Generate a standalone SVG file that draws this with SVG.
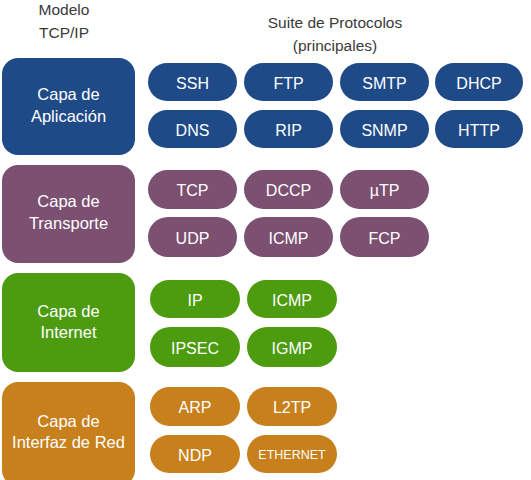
<svg xmlns="http://www.w3.org/2000/svg" width="531" height="480" viewBox="0 0 531 480">
<style>
text{font-family:"Liberation Sans",Arial,sans-serif;text-anchor:middle;}
.h{fill:#3a3a3a;font-size:15.5px;}
.l{fill:#fff;font-size:16.5px;}
.p{fill:#fff;font-size:16px;}
.s{fill:#fff;font-size:12.5px;}
.b{fill:#1f4a88;}
.u{fill:#7c5070;}
.g{fill:#4d9b0f;}
.o{fill:#c7801b;}
</style>
<g id="header">
<text class="h" x="64" y="15">Modelo</text>
<text class="h" x="64" y="38">TCP/IP</text>
<text class="h" x="335" y="28">Suite de Protocolos</text>
<text class="h" x="335" y="51">(principales)</text>
</g>
<g id="connectors"></g>
<g id="app">
<rect class="b" x="2" y="58" width="133" height="97" rx="16"/>
<text class="l" x="68.5" y="100">Capa de</text>
<text class="l" x="68.5" y="122">Aplicación</text>
</g>
<g id="ssh"><rect class="b" x="148" y="63" width="89" height="38" rx="19"/><text class="p" x="192.5" y="89">SSH</text></g>
<g id="ftp"><rect class="b" x="244" y="63" width="89" height="38" rx="19"/><text class="p" x="288.5" y="89">FTP</text></g>
<g id="smtp"><rect class="b" x="340" y="63" width="89" height="38" rx="19"/><text class="p" x="384.5" y="89">SMTP</text></g>
<g id="dhcp"><rect class="b" x="435" y="63" width="88" height="38" rx="19"/><text class="p" x="479" y="89">DHCP</text></g>
<g id="dns"><rect class="b" x="148" y="110" width="89" height="38" rx="19"/><text class="p" x="192.5" y="136">DNS</text></g>
<g id="rip"><rect class="b" x="244" y="110" width="89" height="38" rx="19"/><text class="p" x="288.5" y="136">RIP</text></g>
<g id="snmp"><rect class="b" x="340" y="110" width="89" height="38" rx="19"/><text class="p" x="384.5" y="136">SNMP</text></g>
<g id="http"><rect class="b" x="435" y="110" width="88" height="38" rx="19"/><text class="p" x="479" y="136">HTTP</text></g>

<g id="transport">
<rect class="u" x="2" y="165" width="133" height="98" rx="16"/>
<text class="l" x="68.5" y="207">Capa de</text>
<text class="l" x="68.5" y="229">Transporte</text>
</g>
<g id="tcp"><rect class="u" x="148" y="170" width="89" height="39" rx="19.5"/><text class="p" x="192.5" y="196">TCP</text></g>
<g id="dccp"><rect class="u" x="244" y="170" width="89" height="39" rx="19.5"/><text class="p" x="288.5" y="196">DCCP</text></g>
<g id="utp"><rect class="u" x="340" y="170" width="89" height="39" rx="19.5"/><text class="p" x="384.5" y="196">µTP</text></g>
<g id="udp"><rect class="u" x="148" y="217" width="89" height="40" rx="20"/><text class="p" x="192.5" y="244">UDP</text></g>
<g id="icmp-t"><rect class="u" x="244" y="217" width="89" height="40" rx="20"/><text class="p" x="288.5" y="244">ICMP</text></g>
<g id="fcp"><rect class="u" x="340" y="217" width="89" height="40" rx="20"/><text class="p" x="384.5" y="244">FCP</text></g>

<g id="internet">
<rect class="g" x="2" y="273" width="133" height="99" rx="16"/>
<text class="l" x="68.5" y="317">Capa de</text>
<text class="l" x="68.5" y="338">Internet</text>
</g>
<g id="ip"><rect class="g" x="150" y="280" width="90" height="38" rx="19"/><text class="p" x="195" y="306">IP</text></g>
<g id="icmp-i"><rect class="g" x="247" y="280" width="90" height="38" rx="19"/><text class="p" x="292" y="306">ICMP</text></g>
<g id="ipsec"><rect class="g" x="150" y="327" width="90" height="40" rx="20"/><text class="p" x="195" y="354">IPSEC</text></g>
<g id="igmp"><rect class="g" x="247" y="327" width="90" height="40" rx="20"/><text class="p" x="292" y="354">IGMP</text></g>

<g id="network">
<rect class="o" x="2" y="382" width="133" height="104" rx="16"/>
<text class="l" x="68.5" y="427">Capa de</text>
<text class="l" x="68.5" y="448">Interfaz de Red</text>
</g>
<g id="arp"><rect class="o" x="150" y="387" width="90" height="39" rx="19.5"/><text class="p" x="195" y="413">ARP</text></g>
<g id="l2tp"><rect class="o" x="247" y="387" width="90" height="39" rx="19.5"/><text class="p" x="292" y="413">L2TP</text></g>
<g id="ndp"><rect class="o" x="150" y="435" width="90" height="38" rx="19"/><text class="p" x="195" y="461">NDP</text></g>
<g id="ethernet"><rect class="o" x="247" y="435" width="90" height="38" rx="19"/><text class="s" x="292" y="459">ETHERNET</text></g>
</svg>
